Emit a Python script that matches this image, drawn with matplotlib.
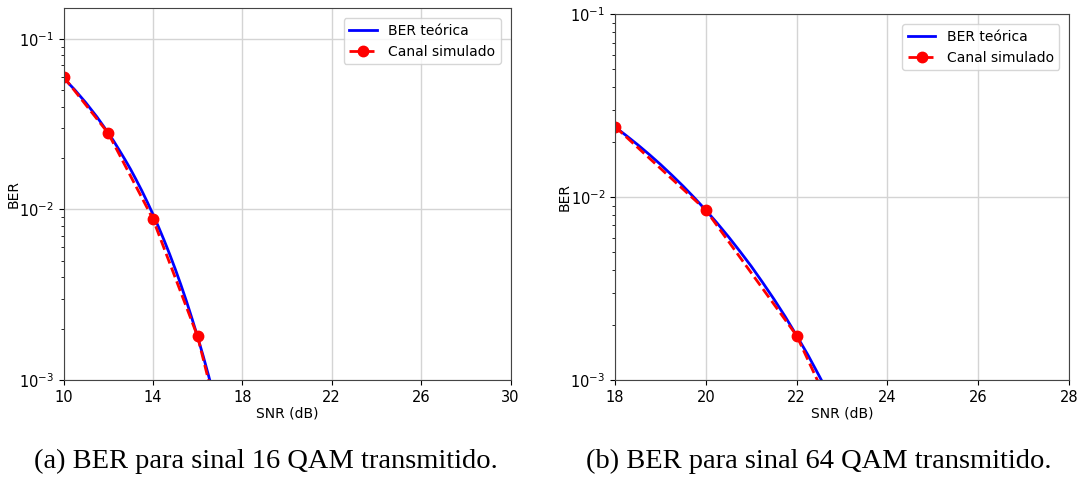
import matplotlib
matplotlib.use("Agg")
import matplotlib.pyplot as plt

# 16 QAM: theoretical BER curve and simulated channel points
snr16_teo = [10, 10.5, 11, 11.5, 12, 12.25, 12.5, 12.75, 13, 13.25, 13.5, 13.75, 14, 14.25,
             14.5, 14.75, 15, 15.25, 15.5, 15.75, 16, 16.25, 16.5, 16.75, 17, 17.5, 18]
ber16_teo = [0.0590, 0.0503, 0.0422, 0.0348, 0.0281, 0.02511, 0.0222, 0.01960, 0.0172, 0.01493,
             0.0129, 0.01104, 0.00938, 0.00790, 0.00660, 0.00546, 0.00447, 0.00362, 0.00290,
             0.00229, 0.00179, 0.001382, 0.00105, 0.000786, 0.000579, 0.000299, 0.000157]
snr16_sim = [10, 12, 14, 16, 18, 20]
ber16_sim = [0.0600, 0.0280, 0.0088, 0.0018, 0.00016, 3e-6]

# 64 QAM
snr64_teo = [18, 18.25, 18.5, 18.75, 19, 19.25, 19.5, 19.75, 20, 20.25, 20.5, 20.75, 21,
             21.25, 21.5, 21.75, 22, 22.25, 22.5, 22.75, 23, 23.5, 24]
ber64_teo = [0.02422, 0.02169, 0.01935, 0.01715, 0.01511, 0.01321, 0.01149, 0.00991, 0.00849,
             0.00721, 0.00607, 0.00506, 0.00419, 0.00342, 0.00277, 0.00222, 0.00175, 0.00137,
             0.00105, 0.000800, 0.000599, 0.000319, 0.000159]
snr64_sim = [18, 20, 22, 24, 26]
ber64_sim = [0.0243, 0.0085, 0.00175, 0.00015, 5e-6]

xticks16 = [10, 14, 18, 22, 26, 30]
xticks64 = [18, 20, 22, 24, 26, 28]

W, H = 1081, 479
fig = plt.figure(figsize=(W / 100, H / 100), dpi=100)

ax1 = fig.add_axes([63.5 / W, 1 - 380 / H, 447 / W, 371.7 / H])
ax2 = fig.add_axes([615 / W, 1 - 380 / H, 454 / W, 365.7 / H])


def draw(ax, xt, yt, xs, ys, xlim, ylim, xticks):
    ax.plot(xt, yt, color="#0000ff", lw=2, label="BER teórica")
    ax.plot(xs, ys, "--", color="#ff0000", lw=2, marker="o", ms=7.5, label="Canal simulado")
    ax.set_yscale("log")
    ax.set_xlim(*xlim)
    ax.set_ylim(*ylim)
    ax.set_xticks(xticks)
    ax.grid(True, which="major", color="#d4d4d4", lw=1)
    ax.set_xlabel("SNR (dB)", fontsize=10, labelpad=1)
    ax.set_ylabel("BER", fontsize=10, labelpad=-1)
    ax.tick_params(labelsize=10.5)
    for s in ax.spines.values():
        s.set_color("#444444")
    ax.legend(loc="upper right", fontsize=10, borderaxespad=0.7)


draw(ax1, snr16_teo, ber16_teo, snr16_sim, ber16_sim, (10, 30), (1e-3, 0.151), xticks16)
draw(ax2, snr64_teo, ber64_teo, snr64_sim, ber64_sim, (18, 28), (1e-3, 1e-1), xticks64)

cap = dict(family="Liberation Serif", fontsize=20.5, ha="center", va="baseline")
fig.text(265.5 / W, 11 / H, "(a) BER para sinal 16 QAM transmitido.", **cap)
fig.text(819 / W, 11 / H, "(b) BER para sinal 64 QAM transmitido.", **cap)

fig.savefig("out.png", dpi=100)
